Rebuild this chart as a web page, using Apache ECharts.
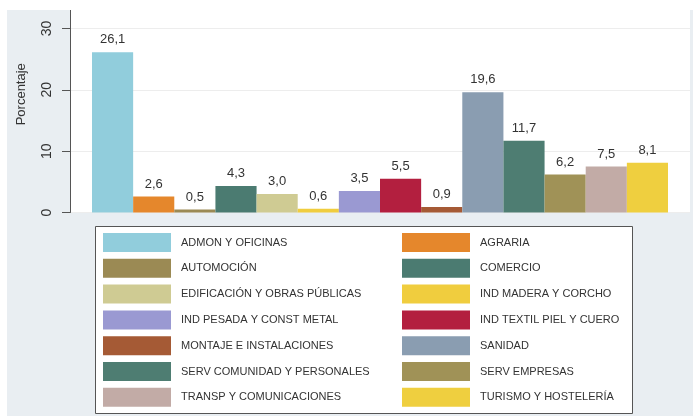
<!DOCTYPE html>
<html>
<head>
<meta charset="utf-8">
<script src="https://cdn.jsdelivr.net/npm/echarts@6/dist/echarts.min.js"></script>
<style>
  html, body { margin: 0; padding: 0; background: #fff; }
  #chart { position: absolute; left: 7px; top: 10px; width: 686px; height: 406px; }
</style>
</head>
<body>
<div id="chart"></div>
<script>
  // categorías (orden alfabético, igual que la leyenda)
  var categories = [
    'ADMON Y OFICINAS', 'AGRARIA', 'AUTOMOCIÓN', 'COMERCIO',
    'EDIFICACIÓN Y OBRAS PÚBLICAS', 'IND MADERA Y CORCHO',
    'IND PESADA Y CONST METAL', 'IND TEXTIL PIEL Y CUERO',
    'MONTAJE E INSTALACIONES', 'SANIDAD', 'SERV COMUNIDAD Y PERSONALES',
    'SERV EMPRESAS', 'TRANSP Y COMUNICACIONES', 'TURISMO Y HOSTELERÍA'
  ];
  var values = [26.1, 2.6, 0.5, 4.3, 3.0, 0.6, 3.5, 5.5, 0.9, 19.6, 11.7, 6.2, 7.5, 8.1];
  var yTicks = [0, 10, 20, 30];

  var colors = [
    '#91cddc', '#e5872c', '#9b8a54', '#4b7b71', '#cfcb93', '#f0cd3e', '#9a99d2',
    '#b31f3f', '#a55a35', '#8a9db1', '#4e7d72', '#a09257', '#c2aba6', '#efcf3f'
  ];

  var font = "'Liberation Sans', Arial, sans-serif";
  var myChart = echarts.init(document.getElementById('chart'));

  var series = categories.map(function (name, i) {
    return {
      name: name,
      type: 'bar',
      xAxisIndex: 1,
      yAxisIndex: 1,
      stack: 'all',
      barCategoryGap: '0%',
      itemStyle: { color: colors[i] },
      label: {
        show: true,
        position: 'top',
        distance: 6,
        color: '#333',
        fontSize: 13,
        fontFamily: font,
        formatter: function (p) { return p.value.toFixed(1).replace('.', ','); }
      },
      data: values.map(function (v, j) { return j === i ? v : '-'; })
    };
  });

  // leyenda en dos columnas
  var legendBase = {
    top: 223,
    orient: 'vertical',
    padding: 0,
    itemWidth: 68,
    itemHeight: 19,
    itemGap: 6.8,
    icon: 'rect',
    textStyle: { fontSize: 11, color: '#333', fontFamily: font, padding: [0, 0, 0, 5] }
  };
  var leftCol = categories.filter(function (c, i) { return i % 2 === 0; });
  var rightCol = categories.filter(function (c, i) { return i % 2 === 1; });

  var option = {
    backgroundColor: '#e9eef2',
    animation: false,
    grid: [
      { left: 59, right: 3, top: 0, bottom: 203.5, show: true, backgroundColor: '#fff', borderWidth: 0 },
      { left: 85, right: 25, top: 0, bottom: 203.5 }
    ],
    xAxis: [
      { type: 'value', gridIndex: 0, show: false, min: 0, max: 1 },
      { type: 'category', gridIndex: 1, data: categories, show: false }
    ],
    yAxis: [
      {
        type: 'value', gridIndex: 0, min: 0, max: 33, interval: 10,
        name: 'Porcentaje',
        nameLocation: 'middle',
        nameGap: 42,
        nameTextStyle: { fontSize: 13, color: '#333', fontFamily: font, padding: [0, 0, 0, 34] },
        axisLine: { show: true, lineStyle: { color: '#555', width: 1 } },
        axisTick: { show: true, length: 8, lineStyle: { color: '#555' }, customValues: yTicks },
        axisLabel: { rotate: 90, margin: 16, fontSize: 14, color: '#333', fontFamily: font, customValues: yTicks },
        splitLine: { show: true, lineStyle: { color: '#ededed', width: 1 } }
      },
      { type: 'value', gridIndex: 1, min: 0, max: 33, show: false, splitLine: { show: false } }
    ],
    legend: [
      Object.assign({}, legendBase, { left: 96, data: leftCol }),
      Object.assign({}, legendBase, { left: 395, data: rightCol })
    ],
    graphic: [{
      type: 'rect',
      left: 88,
      top: 216,
      z: -1,
      shape: { width: 537, height: 187 },
      style: { fill: '#fff', stroke: '#555', lineWidth: 1 }
    }],
    series: series
  };

  myChart.setOption(option);
</script>
</body>
</html>
